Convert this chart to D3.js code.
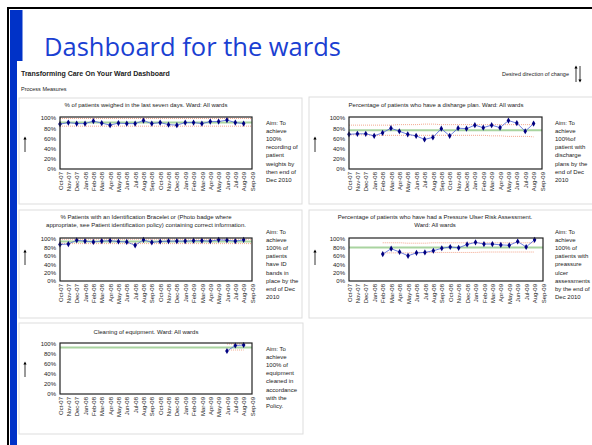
<!DOCTYPE html>
<html>
<head>
<meta charset="utf-8">
<script src="https://cdn.jsdelivr.net/npm/d3@7"></script>
<style>
  body { margin: 0; background: #fff; }
  svg text { font-family: "Liberation Sans", Arial, sans-serif; fill: #222; }
</style>
</head>
<body>
<div id="canvas-svg"></div>
<script>
// months on every x axis
var months = ["Oct-07","Nov-07","Dec-07","Jan-08","Feb-08","Mar-08","Apr-08","May-08","Jun-08","Jul-08","Aug-08","Sep-08",
              "Oct-08","Nov-08","Dec-08","Jan-09","Feb-09","Mar-09","Apr-09","May-09","Jun-09","Jul-09","Aug-09","Sep-09"];
var yTicks = [0, 20, 40, 60, 80, 100];

// % weighed in last seven days
var weighed    = [88,91,89,89,94,90,86,90,89,89,95,89,91,87,86,91,91,89,93,93,96,91,89,null];
var weighedMean = 91;
var weighedUcl = [99,99,99,99,99,99,99,99,99,99,99,99,99,99,99,99,99,99,99,99,99,99,99,99];
var weighedLcl = [84,84,84,84,84,84,84,84,84,84,84,84,84,84,84,84,84,84,84,84,84,84,84,84];

// % with discharge plan
var discharge  = [68,69,69,65,71,80,74,68,65,58,62,79,65,80,79,86,81,86,81,95,90,74,89,null];
var dischargeMean = 76;
var dischargeUcl = [86,86,86,86,86,86,87,87,87,88,88,87,87,87,87,87,87,87,87,87,87,87,87,null];
var dischargeLcl = [67,67,67,66,66,66,66,66,66,66,66,66,66,66,66,66,66,65,65,64,64,64,63,null];

// % with ID bracelet
var idBand     = [87,88,97,95,93,95,96,94,93,85,98,92,94,95,95,95,96,96,95,98,97,95,98,null];
var idBandMean = 94;
var idBandUcl  = [99.5,99.5,99.5,99.5,99.5,99.5,99.5,99.5,99.5,99.5,99.5,99.5,99.5,99.5,99.5,99.5,99.5,99.5,99.5,99.5,99.5,99.5,99.5,99.5];
var idBandLcl  = [89,89,89,89,89,89,89,89,89,89,89,89,89,89,89,89,89,89,89,89,89,89,89,89];

// % pressure ulcer risk assessment
var pressure   = [null,null,null,null,64,77,69,60,67,68,72,78,81,79,87,92,88,88,86,85,94,81,98,null];
var pressureMean = 80;
var pressureUcl = [null,null,null,null,91,91,91,90,90,90,91,91,91,91,91,91,91,91,91,91,91,91,91,null];
var pressureLcl = [null,null,null,null,67,67,67,67,67,68,68,68,68,68,68,68,69,69,69,69,69,69,69,null];

// cleaning of equipment
var cleaning   = [null,null,null,null,null,null,null,null,null,null,null,null,null,null,null,null,null,null,null,null,86,97,98,null];
var cleaningMean = 93;
var cleaningUcl = [null,null,null,null,null,null,null,null,null,null,null,null,null,null,null,null,null,null,null,null,100,100,100,null];
var cleaningLcl = [null,null,null,null,null,null,null,null,null,null,null,null,null,null,null,null,null,null,null,null,88,88,88,null];

var panels = [
  {box:[19,98,283,106], plot:[60,117,252,169], title:["% of patients weighed in the last seven days. Ward: All wards"], tx:146, ty:107,
   aim:["Aim:  To","achieve","100%","recording of","patient","weights by","then end of","Dec 2010"], ax:266, ay:125, arrow:[25,137,152],
   values:weighed, mean:weighedMean, ucl:weighedUcl, lcl:weighedLcl},
  {box:[309,97,300,107], plot:[349,117,542,169], title:["Percentage of patients who have a disharge plan. Ward: All wards"], tx:436, ty:107,
   aim:["Aim:  To","achieve","100%of","patient with","discharge","plans by the","end of Dec","2010"], ax:555, ay:125, arrow:[315,137,152],
   values:discharge, mean:dischargeMean, ucl:dischargeUcl, lcl:dischargeLcl},
  {box:[19,210,283,108], plot:[60,238,252,281], title:["% Patients with an Identification Bracelet or (Photo badge where","appropriate, see Patient identification policy)  containing correct information."], tx:146, ty:219,
   aim:["Aim:  To","achieve","100% of","patients","have ID","bands in","place by the","end of Dec","2010"], ax:266, ay:234, arrow:[25,250,265],
   values:idBand, mean:idBandMean, ucl:idBandUcl, lcl:idBandLcl},
  {box:[309,210,300,108], plot:[349,238,543,281], title:["Percentage of patients who have had a Pressure Ulser Risk Assessment.","Ward: All wards"], tx:435, ty:219,
   aim:["Aim:  To","achieve","100% of","patients with","preassure","ulcer","assessments","by the end of","Dec 2010"], ax:555, ay:234, arrow:[315,250,265],
   values:pressure, mean:pressureMean, ucl:pressureUcl, lcl:pressureLcl},
  {box:[19,323,284,111], plot:[60,343,252,394], title:["Cleaning of equipment. Ward: All wards"], tx:146, ty:334,
   aim:["Aim: To","achieve","100% of","equipment","cleaned in","accordance","with the","Policy."], ax:266, ay:351, arrow:[25,362,377],
   values:cleaning, mean:cleaningMean, ucl:cleaningUcl, lcl:cleaningLcl}
];

var width = 592, height = 445;
var svg = d3.select("#canvas-svg").append("svg")
    .attr("width", width)
    .attr("height", height);

svg.append("defs").append("marker")
    .attr("id", "head")
    .attr("viewBox", "0 0 6 6")
    .attr("refX", 3).attr("refY", 3)
    .attr("markerWidth", 4).attr("markerHeight", 4)
    .attr("orient", "auto")
  .append("path")
    .attr("d", "M0,0L6,3L0,6Z")
    .attr("fill", "#000");

// slide frame
svg.append("rect").attr("x", 7).attr("y", 7).attr("width", width).attr("height", 2).attr("fill", "#000");
svg.append("rect").attr("x", 7).attr("y", 7).attr("width", 2).attr("height", height).attr("fill", "#000");
svg.append("rect").attr("x", 10).attr("y", 10).attr("width", 12.5).attr("height", height).attr("fill", "#0032c8");

svg.append("text")
    .attr("x", 44).attr("y", 56)
    .style("font-family", "'Open Sans', sans-serif")
    .style("font-size", "25.5px")
    .style("fill", "#1a40d2")
    .text("Dashboard for the wards");

// pasted dashboard image
svg.append("rect").attr("x", 17).attr("y", 61).attr("width", width).attr("height", height).attr("fill", "#fff");

svg.append("text").attr("x", 21).attr("y", 76)
    .style("font-size", "7px").style("font-weight", "bold")
    .text("Transforming Care On Your Ward Dashboard");
svg.append("text").attr("x", 21).attr("y", 91)
    .style("font-size", "5.5px")
    .text("Process Measures");
svg.append("text").attr("x", 569).attr("y", 76)
    .attr("text-anchor", "end")
    .style("font-size", "5.5px")
    .text("Desired direction of change");
svg.append("line").attr("x1", 576).attr("x2", 576).attr("y1", 82).attr("y2", 67)
    .attr("stroke", "#000").attr("stroke-width", 0.8).attr("marker-end", "url(#head)");
svg.append("line").attr("x1", 580).attr("x2", 580).attr("y1", 66).attr("y2", 81)
    .attr("stroke", "#000").attr("stroke-width", 0.8).attr("marker-end", "url(#head)");

panels.forEach(function(p) {
  var g = svg.append("g");

  g.append("rect")
      .attr("x", p.box[0]).attr("y", p.box[1])
      .attr("width", p.box[2]).attr("height", p.box[3])
      .attr("fill", "#fff").attr("stroke", "#ddd").attr("stroke-width", 1);

  p.title.forEach(function(t, i) {
    g.append("text")
        .attr("x", p.tx).attr("y", p.ty + i * 8)
        .attr("text-anchor", "middle")
        .style("font-size", "6px")
        .text(t);
  });

  p.aim.forEach(function(t, i) {
    g.append("text")
        .attr("x", p.ax).attr("y", p.ay + i * 8.1)
        .style("font-size", "6px")
        .text(t);
  });

  g.append("line")
      .attr("x1", p.arrow[0]).attr("x2", p.arrow[0])
      .attr("y1", p.arrow[2]).attr("y2", p.arrow[1] + 1)
      .attr("stroke", "#000").attr("stroke-width", 0.8)
      .attr("marker-end", "url(#head)");

  var x = d3.scalePoint().domain(months).range([p.plot[0], p.plot[2]]);
  var y = d3.scaleLinear().domain([0, 100]).range([p.plot[3], p.plot[1] + 1]);

  // y axis labels
  g.append("g")
      .attr("transform", "translate(" + p.plot[0] + ",0)")
      .call(d3.axisLeft(y).tickValues(yTicks).tickSize(0).tickPadding(4)
              .tickFormat(function(d) { return d + "%"; }))
      .call(function(a) { a.select(".domain").remove(); })
      .selectAll("text")
      .style("font-size", "6px")
      .style("font-family", "'Liberation Sans', Arial, sans-serif")
      .attr("fill", "#222");

  // x axis labels
  g.append("g")
      .attr("transform", "translate(0," + p.plot[3] + ")")
      .call(d3.axisBottom(x).tickSize(0).tickPadding(0))
      .call(function(a) { a.select(".domain").remove(); })
      .selectAll("text")
      .attr("transform", "rotate(-90)")
      .attr("x", -3).attr("y", 0).attr("dy", "0.35em")
      .attr("text-anchor", "end")
      .style("font-size", "6px")
      .style("font-family", "'Liberation Sans', Arial, sans-serif")
      .attr("fill", "#222");

  // centre line
  g.append("line")
      .attr("x1", p.plot[0]).attr("x2", p.plot[2])
      .attr("y1", y(p.mean)).attr("y2", y(p.mean))
      .attr("stroke", "#a9d4a0").attr("stroke-width", 2);

  var limit = d3.line()
      .defined(function(d) { return d.v != null; })
      .x(function(d) { return x(d.m); })
      .y(function(d) { return y(d.v); })
      .curve(d3.curveMonotoneX);

  [p.ucl, p.lcl].forEach(function(arr) {
    g.append("path")
        .datum(months.map(function(m, i) { return {m: m, v: arr[i]}; }))
        .attr("d", limit)
        .attr("fill", "none")
        .attr("stroke", "#f09070")
        .attr("stroke-width", 0.8)
        .attr("stroke-dasharray", "1,1");
  });

  var pts = months.map(function(m, i) { return {m: m, v: p.values[i]}; });
  g.append("path")
      .datum(pts)
      .attr("d", d3.line()
          .defined(function(d) { return d.v != null; })
          .x(function(d) { return x(d.m); })
          .y(function(d) { return y(d.v); }))
      .attr("fill", "none")
      .attr("stroke", "#4a5fd8")
      .attr("stroke-width", 0.8);

  g.selectAll(".pt")
      .data(pts.filter(function(d) { return d.v != null; }))
      .enter().append("path")
      .attr("class", "pt")
      .attr("transform", function(d) { return "translate(" + x(d.m) + "," + y(d.v) + ")"; })
      .attr("d", d3.symbol().type(d3.symbolDiamond).size(11))
      .attr("fill", "#000080");

  // plot frame
  g.append("rect")
      .attr("x", p.plot[0]).attr("y", p.plot[1])
      .attr("width", p.plot[2] - p.plot[0]).attr("height", p.plot[3] - p.plot[1])
      .attr("fill", "none").attr("stroke", "#222").attr("stroke-width", 1.2);
});
</script>
</body>
</html>
